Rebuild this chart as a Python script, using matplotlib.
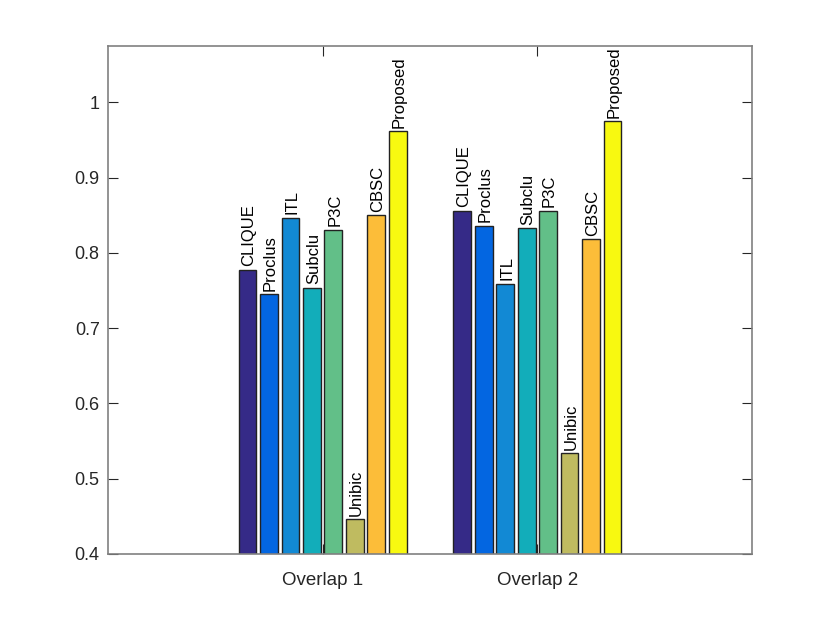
import numpy as np
import matplotlib
matplotlib.use('Agg')
import matplotlib.pyplot as plt

plt.rcParams['font.family'] = ['Liberation Sans', 'DejaVu Sans']

# Data
groups = ['Overlap 1', 'Overlap 2']
methods = ['CLIQUE', 'Proclus', 'ITL', 'Subclu', 'P3C', 'Unibic', 'CBSC', 'Proposed']
overlap1 = [0.778, 0.745, 0.847, 0.754, 0.831, 0.446, 0.850, 0.962]
overlap2 = [0.856, 0.836, 0.759, 0.833, 0.856, 0.534, 0.818, 0.975]
colors = ['#352a87', '#0366e1', '#1289d4', '#12adba', '#62bf88',
          '#bfbb60', '#fcbd39', '#f8f910']

fig = plt.figure(figsize=(8.3, 6.23), dpi=100)
ax = fig.add_axes([108 / 830, 1 - 554 / 623, 644 / 830, 508 / 623])

x = np.arange(1, len(groups) + 1)
pitch = 0.1
width = 0.083
values = np.array([overlap1, overlap2])

for i, m in enumerate(methods):
    pos = x + (i - (len(methods) - 1) / 2) * pitch
    ax.bar(pos, values[:, i], width, bottom=0, color=colors[i],
           edgecolor='#222222', linewidth=1.0, zorder=2)
    for px, v in zip(pos, values[:, i]):
        ax.annotate(m, (px, v), xytext=(1, 2.5), textcoords='offset points',
                    rotation=90, ha='center', va='bottom', fontsize=12,
                    color='black')

ax.set_xlim(0, 3)
ax.set_ylim(0.4, 1.075)
ax.set_xticks(x)
ax.set_xticklabels(groups)
ax.set_yticks([0.4, 0.5, 0.6, 0.7, 0.8, 0.9, 1.0])
ax.set_yticklabels(['0.4', '0.5', '0.6', '0.7', '0.8', '0.9', '1'])

ax.tick_params(direction='in', length=7, width=0.8, colors='#262626',
               labelsize=13, top=True, right=True, pad=6)
ax.tick_params(axis='x', labelsize=13.5, pad=13)
for s in ax.spines.values():
    s.set_color('#808080')
    s.set_linewidth(1.2)
    s.set_zorder(3)

fig.savefig('out.png', dpi=100)
